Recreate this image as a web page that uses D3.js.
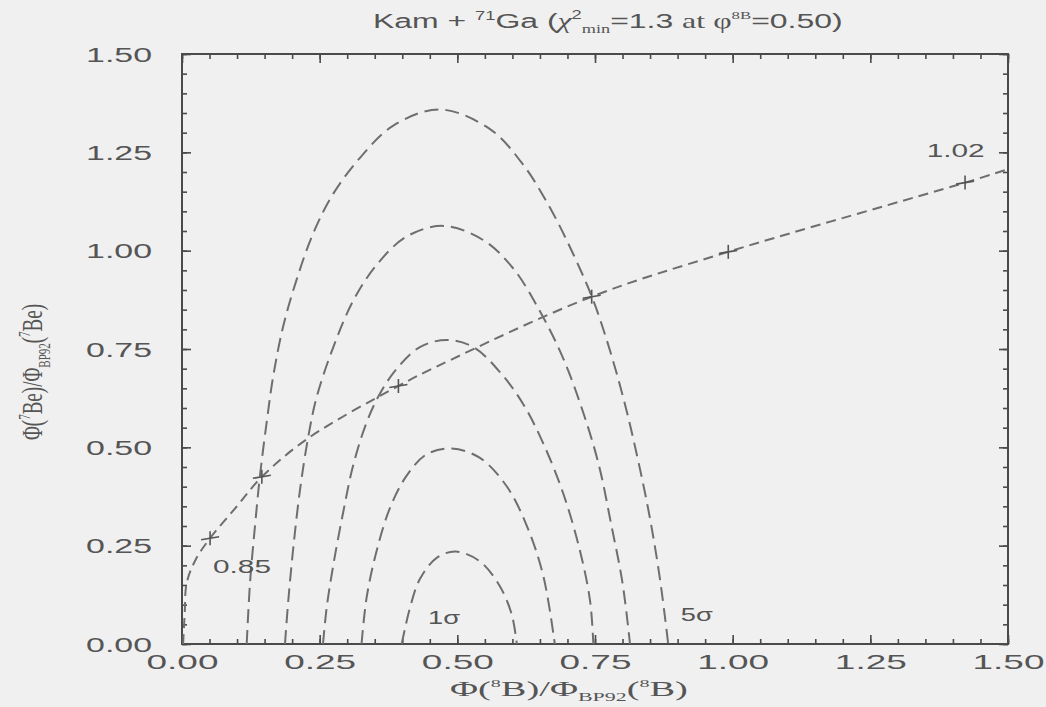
<!DOCTYPE html>
<html><head><meta charset="utf-8">
<script src="https://cdn.jsdelivr.net/npm/d3@7"></script>
<style>body{margin:0;background:#f0f0f0}svg{display:block}</style>
</head><body>
<svg id="c" width="1046" height="707"></svg>
<script>
// ---------- data ----------
const xTicks = [0, 0.25, 0.5, 0.75, 1.0, 1.25, 1.5];
const xTickLabels = ["0.00","0.25","0.50","0.75","1.00","1.25","1.50"];
const yTicks = [0, 0.25, 0.5, 0.75, 1.0, 1.25, 1.5];
const yTickLabels = ["0.00","0.25","0.50","0.75","1.00","1.25","1.50"];

const contour1 = [[0.399,0],[0.414,0.092],[0.432,0.165],[0.4625,0.219],[0.497,0.235],[0.541,0.21],[0.5775,0.146],[0.599,0.074],[0.608,0]];
const contour2 = [[0.326,0],[0.3354,0.119],[0.3535,0.237],[0.3777,0.346],[0.408,0.428],[0.444,0.482],[0.49,0.497],[0.541,0.473],[0.5896,0.401],[0.626,0.301],[0.656,0.174],[0.677,0]];
const contour3 = [[0.256,0],[0.2627,0.092],[0.2748,0.201],[0.293,0.337],[0.311,0.455],[0.3354,0.564],[0.3596,0.637],[0.390,0.700],[0.432,0.755],[0.481,0.773],[0.529,0.755],[0.5775,0.691],[0.620,0.609],[0.656,0.510],[0.6925,0.382],[0.7227,0.237],[0.741,0.110],[0.747,0]];
const contour4 = [[0.187,0],[0.193,0.110],[0.2022,0.246],[0.2143,0.392],[0.2294,0.528],[0.2446,0.628],[0.2748,0.755],[0.311,0.873],[0.3535,0.964],[0.408,1.036],[0.4746,1.063],[0.547,1.027],[0.602,0.954],[0.650,0.846],[0.692,0.727],[0.728,0.591],[0.757,0.455],[0.78,0.30],[0.80,0.155],[0.8136,0]];
const contour5 = [[0.1175,0],[0.1235,0.155],[0.1326,0.301],[0.1416,0.428],[0.1538,0.564],[0.1658,0.682],[0.184,0.809],[0.2083,0.927],[0.2385,1.045],[0.2748,1.145],[0.3232,1.236],[0.3837,1.318],[0.4685,1.359],[0.5593,1.309],[0.6198,1.218],[0.6683,1.109],[0.7106,0.991],[0.747,0.873],[0.7772,0.746],[0.8045,0.609],[0.8287,0.464],[0.8499,0.319],[0.868,0.165],[0.883,0]];

const rateLine = [[0.002,0.0],[0.005,0.08],[0.0085,0.155],[0.025,0.215],[0.051,0.269],[0.099,0.349],[0.145,0.425],[0.229,0.523],[0.393,0.656],[0.468,0.709],[0.744,0.883],[0.992,0.997],[1.422,1.173],[1.5,1.207]];
const rateMarks = [[0.051,0.269],[0.145,0.425],[0.393,0.656],[0.744,0.883],[0.992,0.997],[1.422,1.173]];
const markLabels = [{t:"0.85", x:0.109, y:0.198}, {t:"1.02", x:1.405, y:1.255}];
const sigmaLabels = [{t:"1σ", x:0.476, y:0.067}, {t:"5σ", x:0.935, y:0.075}];

// ---------- setup ----------
const svg = d3.select("#c");
const x = d3.scaleLinear().domain([0,1.5]).range([182,1008]);
const y = d3.scaleLinear().domain([0,1.5]).range([644,54]);
const axisCol = "#4a4a4a", textCol = "#555", curveCol = "#6e6e6e";

function fitWidth(sel, target){
  sel.each(function(){
    const w = this.getBBox().width;
    const s = target / w;
    const t = d3.select(this);
    const ax = +t.attr("data-ax") || 0;
    t.attr("transform", `translate(${ax},0) scale(${s},1) translate(${-ax},0)`);
  });
}

// ---------- axes ----------
const minor = d3.range(0, 1.5001, 0.05);
function styleAxis(g){ g.select(".domain").remove(); g.selectAll("line").attr("stroke",axisCol).attr("stroke-width",1.6); }

svg.append("g").attr("transform",`translate(0,${y(0)})`)
  .call(d3.axisBottom(x).tickValues(minor).tickSizeInner(-5).tickSizeOuter(0).tickFormat("")).call(styleAxis);
svg.append("g").attr("transform",`translate(0,${y(1.5)})`)
  .call(d3.axisTop(x).tickValues(minor).tickSizeInner(-5).tickSizeOuter(0).tickFormat("")).call(styleAxis);
svg.append("g").attr("transform",`translate(${x(0)},0)`)
  .call(d3.axisLeft(y).tickValues(minor).tickSizeInner(-5).tickSizeOuter(0).tickFormat("")).call(styleAxis);
svg.append("g").attr("transform",`translate(${x(1.5)},0)`)
  .call(d3.axisRight(y).tickValues(minor).tickSizeInner(-5).tickSizeOuter(0).tickFormat("")).call(styleAxis);

const gxb = svg.append("g").attr("transform",`translate(0,${y(0)})`)
  .call(d3.axisBottom(x).tickValues(xTicks).tickFormat((d,i)=>xTickLabels[i]).tickSizeInner(-9).tickSizeOuter(0).tickPadding(11)).call(styleAxis);
svg.append("g").attr("transform",`translate(0,${y(1.5)})`)
  .call(d3.axisTop(x).tickValues(xTicks).tickFormat("").tickSizeInner(-9).tickSizeOuter(0)).call(styleAxis);
const gyl = svg.append("g").attr("transform",`translate(${x(0)},0)`)
  .call(d3.axisLeft(y).tickValues(yTicks).tickFormat((d,i)=>yTickLabels[i]).tickSizeInner(-9).tickSizeOuter(0).tickPadding(30)).call(styleAxis);
svg.append("g").attr("transform",`translate(${x(1.5)},0)`)
  .call(d3.axisRight(y).tickValues(yTicks).tickFormat("").tickSizeInner(-9).tickSizeOuter(0)).call(styleAxis);

gxb.selectAll("text").attr("font-family","Liberation Sans, Arial, sans-serif").attr("font-size",20).attr("fill",textCol);
gxb.selectAll("text").each(function(){ fitWidth(d3.select(this), 72); });
gyl.selectAll("text").attr("font-family","Liberation Sans, Arial, sans-serif").attr("font-size",20).attr("fill",textCol)
   .attr("dy","0.36em").attr("data-ax", -30);
gyl.selectAll("text").each(function(){ fitWidth(d3.select(this), 66); });

// frame
svg.append("rect").attr("x",x(0)).attr("y",y(1.5)).attr("width",x(1.5)-x(0)).attr("height",y(0)-y(1.5))
  .attr("fill","none").attr("stroke",axisCol).attr("stroke-width",2);

// ---------- contours ----------
const line = d3.line().x(d=>x(d[0])).y(d=>y(d[1])).curve(d3.curveCatmullRom.alpha(0.5));
const plot = svg.append("g");
[contour1, contour2, contour3, contour4, contour5].forEach(c => {
  plot.append("path").attr("d", line(c)).attr("fill","none").attr("stroke",curveCol)
    .attr("stroke-width",2).attr("stroke-dasharray","14,7");
});

// rate line
plot.append("path").attr("d", line(rateLine)).attr("fill","none").attr("stroke",curveCol)
  .attr("stroke-width",2).attr("stroke-dasharray","10,6");

// markers
const mk = plot.selectAll("g.mk").data(rateMarks).join("g").attr("class","mk")
  .attr("transform", d=>`translate(${x(d[0])},${y(d[1])})`);
mk.append("line").attr("x1",-9).attr("x2",9).attr("y1",1.5).attr("y2",-1.5).attr("stroke","#555").attr("stroke-width",1.6);
mk.append("line").attr("x1",0).attr("x2",0).attr("y1",-7).attr("y2",7).attr("stroke","#555").attr("stroke-width",1.6);

// labels
function smallLabel(d, target){
  const t = svg.append("text").attr("x",x(d.x)).attr("y",y(d.y)).attr("text-anchor","middle")
    .attr("dy","0.36em").attr("font-family","Liberation Sans, Arial, sans-serif").attr("font-size",18)
    .attr("fill",textCol).attr("data-ax",x(d.x)).text(d.t);
  fitWidth(t, target);
}
markLabels.forEach(d=>smallLabel(d,58));
sigmaLabels.forEach(d=>smallLabel(d,32));

// ---------- title ----------
const title = svg.append("text").attr("x",373).attr("y",28).attr("data-ax",373)
  .attr("font-family","Liberation Sans, Arial, sans-serif").attr("font-size",21).attr("fill",textCol);
title.append("tspan").text("Kam + ");
title.append("tspan").attr("font-size",12).attr("dy",-8).text("71");
title.append("tspan").attr("dy",8).text("Ga (");
title.append("tspan").attr("font-family","Liberation Serif, serif").attr("font-style","italic").text("χ");
title.append("tspan").attr("font-size",12).attr("dy",-9).text("2");
title.append("tspan").attr("font-size",12).attr("font-family","Liberation Serif, serif").attr("dy",14).text("min");
title.append("tspan").attr("dy",-5).text("=1.3 ");
title.append("tspan").attr("font-family","Liberation Serif, serif").text("at φ");
title.append("tspan").attr("font-size",11).attr("font-family","Liberation Serif, serif").attr("dy",-9).text("8B");
title.append("tspan").attr("dy",9).text("=0.50)");
fitWidth(title, 470);

// ---------- axis titles ----------
const xl = svg.append("text").attr("x",450).attr("y",696).attr("data-ax",450)
  .attr("font-family","Liberation Serif, Times New Roman, serif").attr("font-size",21).attr("fill",textCol);
xl.append("tspan").text("Φ(");
xl.append("tspan").attr("font-size",11).attr("dy",-9).text("8");
xl.append("tspan").attr("dy",9).text("B)/Φ");
xl.append("tspan").attr("font-size",12).attr("dy",5).text("BP92");
xl.append("tspan").attr("dy",-5).text("(");
xl.append("tspan").attr("font-size",11).attr("dy",-9).text("8");
xl.append("tspan").attr("dy",9).text("B)");
fitWidth(xl, 238);

const yl = svg.append("text").attr("text-anchor","middle")
  .attr("transform","translate(42,372) rotate(-90) scale(1,1.5)")
  .attr("font-family","Liberation Serif, Times New Roman, serif").attr("font-size",19).attr("fill",textCol);
yl.append("tspan").text("Φ(");
yl.append("tspan").attr("font-size",11).attr("dy",-8).text("7");
yl.append("tspan").attr("dy",8).text("Be)/Φ");
yl.append("tspan").attr("font-size",11).attr("dy",5).text("BP92");
yl.append("tspan").attr("dy",-5).text("(");
yl.append("tspan").attr("font-size",11).attr("dy",-8).text("7");
yl.append("tspan").attr("dy",8).text("Be)");
</script>
</body></html>
